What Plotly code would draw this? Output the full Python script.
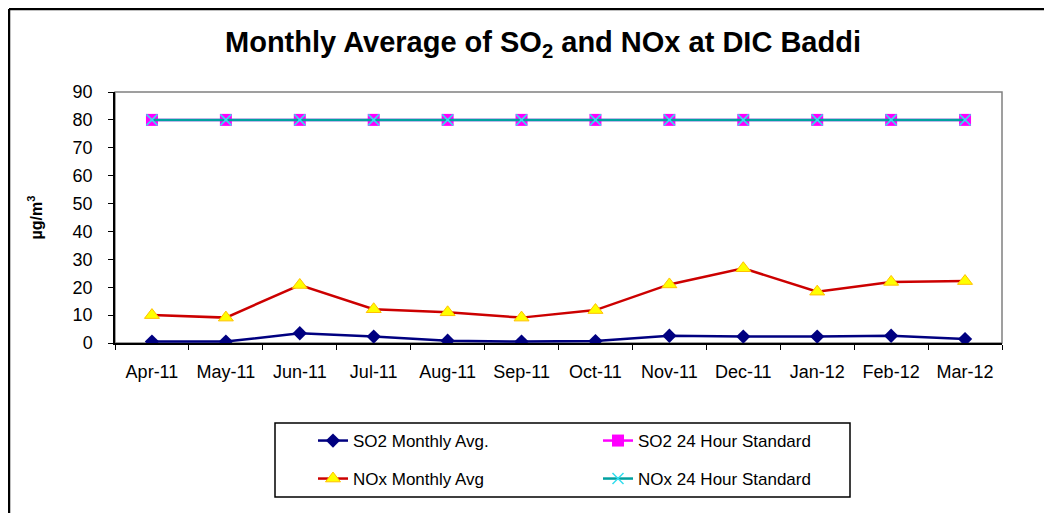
import plotly.graph_objects as go

months = ["Apr-11", "May-11", "Jun-11", "Jul-11", "Aug-11", "Sep-11",
          "Oct-11", "Nov-11", "Dec-11", "Jan-12", "Feb-12", "Mar-12"]
so2_avg = [0.5, 0.5, 3.5, 2.3, 0.8, 0.5, 0.7, 2.6, 2.3, 2.3, 2.6, 1.4]
so2_std = [80] * 12
nox_avg = [10.0, 9.1, 20.8, 12.1, 11.0, 9.1, 11.8, 21.0, 26.8, 18.4, 21.9, 22.2]
nox_std = [80] * 12

FONT = "Liberation Sans, Arial, sans-serif"

fig = go.Figure()
fig.add_trace(go.Scatter(
    x=months, y=so2_avg, name="SO2 Monthly Avg.", mode="lines+markers",
    line=dict(color="#000080", width=2.5),
    marker=dict(symbol="diamond", size=11, color="#000080"),
    legend="legend"))
fig.add_trace(go.Scatter(
    x=months, y=so2_std, name="SO2 24 Hour Standard", mode="lines+markers",
    line=dict(color="#FF00FF", width=2.5),
    marker=dict(symbol="square", size=12, color="#FF00FF"),
    legend="legend"))
fig.add_trace(go.Scatter(
    x=months, y=nox_avg, name="NOx Monthly Avg", mode="lines+markers",
    line=dict(color="#CC0000", width=2.5),
    marker=dict(symbol="triangle-up", size=13, color="#FFFF00",
                line=dict(color="#FFC000", width=1)),
    legend="legend2"))
fig.add_trace(go.Scatter(
    x=months, y=nox_std, name="NOx 24 Hour Standard", mode="lines+markers",
    line=dict(color="#00A0A0", width=2.5),
    marker=dict(symbol="x-thin", size=11, color="#00FFFF",
                line=dict(color="#33DDEE", width=1.5)),
    legend="legend2"))

# page body has an 8px margin; figure coordinates = page coordinates - 8
O = 8
W, H = 1036, 505
L = 115 - O
T = 92 - O
R = W - (1002 - O)
B = H - (343 - O)
pw, ph = W - L - R, H - T - B

def px(x):
    return (x - O - L) / pw

def py(y):
    return (H - B - (y - O)) / ph

legend_common = dict(
    orientation="h", entrywidth=240, entrywidthmode="pixels",
    xanchor="left", yanchor="middle",
    font=dict(family=FONT, size=17, color="#000000"),
    bgcolor="rgba(0,0,0,0)", borderwidth=0,
    itemclick=False, itemdoubleclick=False,
)

fig.update_layout(
    width=W, height=H,
    margin=dict(l=L, r=R, t=T, b=B, autoexpand=False),
    paper_bgcolor="white", plot_bgcolor="white",
    font=dict(family=FONT, color="#000000"),
    title=dict(text="<b>Monthly Average of SO<sub>2</sub> and NOx at DIC Baddi</b>",
               x=(543 - O) / W, xref="container", xanchor="center",
               y=1 - (42 - O) / H, yref="container", yanchor="middle",
               font=dict(family=FONT, size=29, color="#000000")),
    legend=dict(x=px(313), y=py(441), **legend_common),
    legend2=dict(x=px(313), y=py(479), **legend_common),
    xaxis=dict(type="category", range=[-0.5, len(months) - 0.5],
               tickson="boundaries", ticks="outside",
               ticklen=5, tickcolor="#000000", tickwidth=1,
               showline=True, linecolor="#000000", linewidth=1.5,
               showgrid=False, zeroline=False,
               tickfont=dict(family=FONT, size=18, color="#000000"),
               ticklabelstandoff=12),
    yaxis=dict(range=[0, 90], dtick=10, ticks="outside", ticklen=5,
               tickcolor="#000000", tickwidth=1,
               showline=True, linecolor="#000000", linewidth=1.5,
               showgrid=False, zeroline=False,
               tickfont=dict(family=FONT, size=18, color="#000000"),
               ticklabelstandoff=12,
               title=dict(text="<b>µg/m<sup>3</sup></b>", standoff=26,
                          font=dict(family=FONT, size=16, color="#000000"))),
    shapes=[
        dict(type="rect", xref="paper", yref="paper", x0=0, x1=1, y0=0, y1=1,
             line=dict(color="#808080", width=1.5), layer="below"),
        dict(type="rect", xref="paper", yref="paper",
             x0=px(275), x1=px(850), y0=py(497), y1=py(423),
             line=dict(color="#000000", width=1.5)),
        dict(type="line", xref="paper", yref="paper",
             x0=px(9), x1=px(1060), y0=py(9), y1=py(9),
             line=dict(color="#000000", width=2.5)),
        dict(type="line", xref="paper", yref="paper",
             x0=px(9), x1=px(9), y0=py(9), y1=py(530),
             line=dict(color="#000000", width=2.5)),
    ],
)

fig.write_html("out.html")
